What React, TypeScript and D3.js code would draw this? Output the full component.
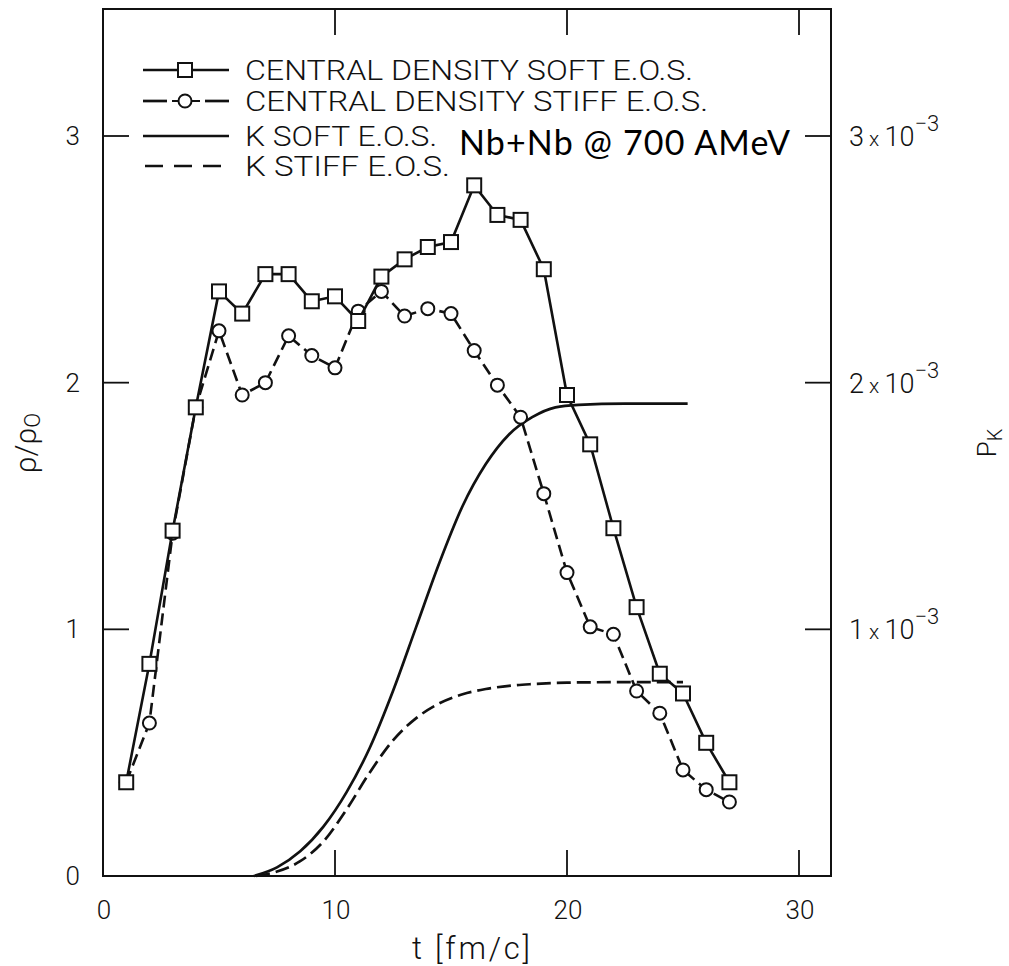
import React from "react";
import * as d3 from "d3";

// Time steps [fm/c] at which the central density was sampled
const timeSteps = [1, 2, 3, 4, 5, 6, 7, 8, 9, 10, 11, 12, 13, 14, 15, 16, 17, 18, 19, 20, 21, 22, 23, 24, 25, 26, 27];

// Central density rho/rho0, soft equation of state
const densitySoft = [0.38, 0.86, 1.4, 1.9, 2.37, 2.28, 2.44, 2.44, 2.33, 2.35, 2.25, 2.43, 2.5, 2.55, 2.57, 2.8, 2.68, 2.66, 2.46, 1.95, 1.75, 1.41, 1.09, 0.82, 0.74, 0.54, 0.38];

// Central density rho/rho0, stiff equation of state
const densityStiff = [0.38, 0.62, 1.39, 1.9, 2.21, 1.95, 2.0, 2.19, 2.11, 2.06, 2.29, 2.37, 2.27, 2.3, 2.28, 2.13, 1.99, 1.86, 1.55, 1.23, 1.01, 0.98, 0.75, 0.66, 0.43, 0.35, 0.3];

// Kaon production probability P_K, soft E.O.S.
const kSoftTimes = [6.5, 7.5, 8.5, 9.5, 10.5, 11.5, 12.5, 13.5, 14.5, 15.5, 16.5, 17.5, 18.5, 19.5, 20.5, 22.5, 25.2];
const kSoftProb = [0, 0.035e-3, 0.1e-3, 0.2e-3, 0.34e-3, 0.52e-3, 0.75e-3, 1.01e-3, 1.27e-3, 1.5e-3, 1.67e-3, 1.79e-3, 1.86e-3, 1.9e-3, 1.91e-3, 1.915e-3, 1.915e-3];

// Kaon production probability P_K, stiff E.O.S.
const kStiffTimes = [6.6, 7.5, 8.5, 9.5, 10.5, 11.5, 12.5, 13.5, 14.5, 15.5, 16.5, 17.5, 18.5, 20, 22.5, 25];
const kStiffProb = [0, 0.018e-3, 0.06e-3, 0.14e-3, 0.27e-3, 0.42e-3, 0.55e-3, 0.64e-3, 0.7e-3, 0.737e-3, 0.758e-3, 0.771e-3, 0.778e-3, 0.784e-3, 0.786e-3, 0.786e-3];

// Axis ticks
const xTicks = [0, 10, 20, 30];
const yLeftTicks = [0, 1, 2, 3];
const yRightTicks = [1e-3, 2e-3, 3e-3];
const yRightTickMantissa = ["1", "2", "3"];

// Legend entries
const legendLabels = [
  "CENTRAL DENSITY SOFT E.O.S.",
  "CENTRAL DENSITY STIFF E.O.S.",
  "K SOFT E.O.S.",
  "K STIFF E.O.S.",
];
const legendTextWidths = [448, 463, 192, 205];

const chartTitle = "Nb+Nb @ 700 AMeV";

const W = 1009;
const H = 966;
const frame = { left: 103, right: 831, top: 9, bottom: 876 };

const labelFont = "Roboto, 'DejaVu Sans', sans-serif";

export default function App() {
  const x = d3.scaleLinear().domain([0, 30]).range([103, 799]);
  const yL = d3.scaleLinear().domain([0, 3]).range([876, 136]);
  const yR = d3.scaleLinear().domain([0, 3e-3]).range([876, 136]);

  const densityLine = d3
    .line<number>()
    .x((_, i) => x(timeSteps[i]))
    .y((d) => yL(d));

  const kSoftLine = d3
    .line<number>()
    .x((_, i) => x(kSoftTimes[i]))
    .y((d) => yR(d))
    .curve(d3.curveMonotoneX);

  const kStiffLine = d3
    .line<number>()
    .x((_, i) => x(kStiffTimes[i]))
    .y((d) => yR(d))
    .curve(d3.curveMonotoneX);

  const tickLen = 26;
  const sq = 14;
  const cr = 6.5;

  const legendX0 = 143;
  const legendX1 = 229;
  const legendRows = [70, 101, 136, 166];

  return (
    <svg
      width={W}
      height={H}
      viewBox={`0 0 ${W} ${H}`}
      style={{ position: "absolute", left: 0, top: 0, background: "#fff" }}
    >
      <rect x={0} y={0} width={W} height={H} fill="#fff" />

      {/* frame */}
      <rect
        x={frame.left}
        y={frame.top}
        width={frame.right - frame.left}
        height={frame.bottom - frame.top}
        fill="none"
        stroke="#111"
        strokeWidth={2}
      />

      {/* x ticks, bottom and top, pointing inward */}
      {xTicks
        .filter((t) => t > 0)
        .map((t) => (
          <g key={`xt${t}`} stroke="#111" strokeWidth={1.8}>
            <line x1={x(t)} x2={x(t)} y1={frame.bottom} y2={frame.bottom - tickLen} />
            <line x1={x(t)} x2={x(t)} y1={frame.top} y2={frame.top + tickLen} />
          </g>
        ))}
      {xTicks.map((t) => (
        <text
          key={`xl${t}`}
          x={x(t) + 1}
          y={919}
          textAnchor="middle"
          fontFamily={labelFont}
          fontWeight={300}
          fontSize={26}
          fill="#111"
        >
          {t}
        </text>
      ))}

      {/* left axis ticks */}
      {yLeftTicks
        .filter((v) => v > 0)
        .map((v) => (
          <line
            key={`ylt${v}`}
            x1={frame.left}
            x2={frame.left + tickLen}
            y1={yL(v)}
            y2={yL(v)}
            stroke="#111"
            strokeWidth={1.8}
          />
        ))}
      {yLeftTicks.map((v) => (
        <text
          key={`yll${v}`}
          x={80}
          y={yL(v) + 9}
          textAnchor="end"
          fontFamily={labelFont}
          fontWeight={300}
          fontSize={26}
          fill="#111"
        >
          {v}
        </text>
      ))}

      {/* right axis ticks */}
      {yRightTicks.map((v, i) => (
        <g key={`yrt${i}`}>
          <line
            x1={frame.right}
            x2={frame.right - tickLen}
            y1={yR(v)}
            y2={yR(v)}
            stroke="#111"
            strokeWidth={1.8}
          />
          <text
            x={849}
            y={yR(v) + 10}
            fontFamily={labelFont}
            fontWeight={300}
            fontSize={27}
            fill="#111"
          >
            {yRightTickMantissa[i]}
            <tspan fontSize={21}> x </tspan>
            <tspan>10</tspan>
            <tspan fontSize={22} dy={-15}>−3</tspan>
          </text>
        </g>
      ))}

      {/* axis titles */}
      <text
        x={412}
        y={959}
        fontFamily={labelFont}
        fontWeight={300}
        fontSize={31}
        fill="#111"
        textLength={118}
        lengthAdjust="spacing"
      >
        t [fm/c]
      </text>
      <text
        transform="translate(36,443) rotate(-90)"
        textAnchor="middle"
        fontFamily={labelFont}
        fontWeight={300}
        fontSize={30}
        fill="#111"
      >
        ρ/ρ
        <tspan fontSize={22} dy={4}>O</tspan>
      </text>
      <text
        transform="translate(996,443) rotate(-90)"
        textAnchor="middle"
        fontFamily={labelFont}
        fontWeight={300}
        fontSize={26}
        fill="#111"
      >
        P
        <tspan fontSize={20} dy={6}>K</tspan>
      </text>

      {/* kaon probability curves */}
      <path
        d={kSoftLine(kSoftProb) || ""}
        fill="none"
        stroke="#111"
        strokeWidth={2.7}
      />
      <path
        d={kStiffLine(kStiffProb) || ""}
        fill="none"
        stroke="#111"
        strokeWidth={2.7}
        strokeDasharray="14,6"
      />

      {/* central density, stiff E.O.S. (circles) */}
      <path
        d={densityLine(densityStiff) || ""}
        fill="none"
        stroke="#111"
        strokeWidth={2.6}
        strokeDasharray="12,6"
      />
      {densityStiff.map((d, i) => (
        <circle
          key={`c${i}`}
          cx={x(timeSteps[i])}
          cy={yL(d)}
          r={cr}
          fill="#fff"
          stroke="#111"
          strokeWidth={2}
        />
      ))}

      {/* central density, soft E.O.S. (squares) */}
      <path
        d={densityLine(densitySoft) || ""}
        fill="none"
        stroke="#111"
        strokeWidth={2.6}
      />
      {densitySoft.map((d, i) => (
        <rect
          key={`s${i}`}
          x={x(timeSteps[i]) - sq / 2}
          y={yL(d) - sq / 2}
          width={sq}
          height={sq}
          fill="#fff"
          stroke="#111"
          strokeWidth={2}
        />
      ))}

      {/* legend */}
      <g stroke="#111" strokeWidth={2.7} fill="none">
        <line x1={legendX0} x2={legendX1} y1={legendRows[0]} y2={legendRows[0]} />
        <rect
          x={185 - sq / 2}
          y={legendRows[0] - sq / 2}
          width={sq}
          height={sq}
          fill="#fff"
          strokeWidth={2}
        />
        <line x1={legendX0} x2={167} y1={legendRows[1]} y2={legendRows[1]} />
        <line x1={205} x2={legendX1} y1={legendRows[1]} y2={legendRows[1]} />
        <line x1={172} x2={200} y1={legendRows[1]} y2={legendRows[1]} strokeWidth={2} />
        <circle cx={185} cy={legendRows[1]} r={cr} fill="#fff" strokeWidth={2} />
        <line x1={legendX0} x2={legendX1} y1={legendRows[2]} y2={legendRows[2]} />
        <line
          x1={145}
          x2={legendX1}
          y1={legendRows[3]}
          y2={legendRows[3]}
          strokeDasharray="18,11"
        />
      </g>
      {legendLabels.map((label, i) => (
        <text
          key={`lg${i}`}
          x={245}
          y={legendRows[i] + 10}
          fontFamily={labelFont}
          fontWeight={300}
          fontSize={27}
          fill="#111"
          textLength={legendTextWidths[i]}
          lengthAdjust="spacingAndGlyphs"
        >
          {label}
        </text>
      ))}

      {/* reaction annotation */}
      <text
        x={459}
        y={155}
        fontFamily="Lato, 'Open Sans', sans-serif"
        fontWeight={400}
        fontSize={34}
        fill="#000"
        textLength={331}
        lengthAdjust="spacing"
      >
        {chartTitle}
      </text>
    </svg>
  );
}
